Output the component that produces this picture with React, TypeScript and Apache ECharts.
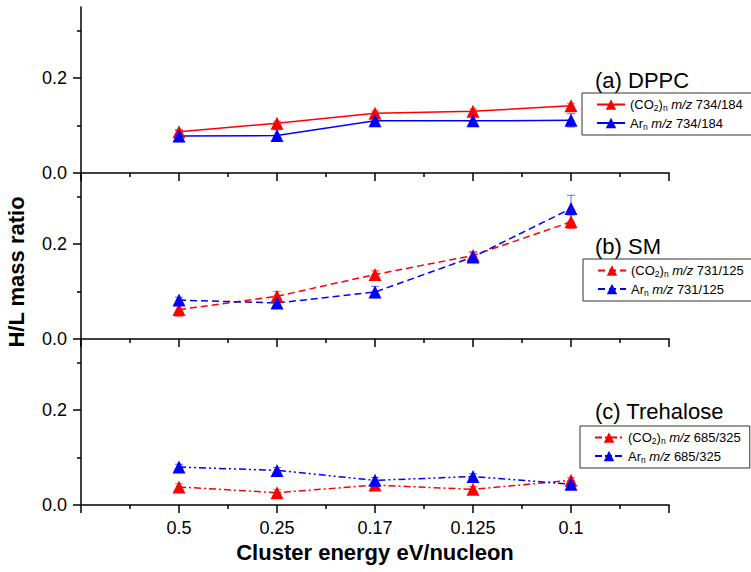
import React, { useEffect, useRef } from 'react';
import * as echarts from 'echarts';

// Cluster energy categories (eV/nucleon)
const energyLabels = ['0.5', '0.25', '0.17', '0.125', '0.1'];

// (a) DPPC  m/z 734/184
const dppcCO2 = [0.087, 0.105, 0.126, 0.130, 0.142];
const dppcCO2Err = [0.004, 0.004, 0.005, 0.005, 0.005];
const dppcAr = [0.078, 0.079, 0.110, 0.110, 0.111];
const dppcArErr = [0.012, 0.012, 0.010, 0.010, 0.014];

// (b) SM  m/z 731/125
const smCO2 = [0.062, 0.090, 0.136, 0.176, 0.247];
const smCO2Err = [0.015, 0.010, 0.008, 0.008, 0.014];
const smAr = [0.082, 0.076, 0.099, 0.173, 0.275];
const smArErr = [0.006, 0.010, 0.012, 0.010, 0.028];

// (c) Trehalose  m/z 685/325
const treCO2 = [0.038, 0.026, 0.042, 0.033, 0.052];
const treCO2Err = [0.007, 0.007, 0.006, 0.006, 0.006];
const treAr = [0.080, 0.073, 0.052, 0.060, 0.044];
const treArErr = [0.006, 0.006, 0.006, 0.006, 0.008];

const yMajorTicks = [0, 0.2];
const yMinorTicks = [0.1, 0.3];

const panelTitles = ['(a) DPPC', '(b) SM', '(c) Trehalose'];
const massLabels = ['734/184', '731/125', '685/325'];

const RED = '#ff0000';
const BLUE = '#0000ff';
const FONT = "'Liberation Sans', Arial, sans-serif";

export default function App() {
  const ref = useRef<HTMLDivElement>(null);

  useEffect(() => {
    if (!ref.current) return;
    const chart = echarts.init(ref.current, undefined, { renderer: 'svg' });

    const GRID_LEFT = 81;
    const GRID_W = 588;
    const GRID_H = 166;
    const tops = [7, 173, 339];

    const panels = [
      { co2: dppcCO2, co2Err: dppcCO2Err, ar: dppcAr, arErr: dppcArErr, dashCO2: 'solid', dashAr: 'solid' },
      { co2: smCO2, co2Err: smCO2Err, ar: smAr, arErr: smArErr, dashCO2: [7, 4], dashAr: [7, 4] },
      { co2: treCO2, co2Err: treCO2Err, ar: treAr, arErr: treArErr, dashCO2: [7, 3, 2, 3], dashAr: [7, 3, 2, 3, 2, 3] },
    ];

    const grid = tops.map((t) => ({ left: GRID_LEFT, top: t, width: GRID_W, height: GRID_H }));

    const xAxis = tops.map((_, i) => ({
      type: 'value',
      gridIndex: i,
      min: 0,
      max: 6,
      interval: 1,
      axisLine: { show: true, lineStyle: { color: '#000', width: 1.5 } },
      axisTick: { show: true, length: 8, lineStyle: { color: '#000', width: 1.5 } },
      minorTick: { show: true, splitNumber: 2, length: 4, lineStyle: { color: '#000', width: 1.5 } },
      splitLine: { show: false },
      minorSplitLine: { show: false },
      axisLabel: {
        show: i === 2,
        color: '#000',
        fontSize: 18,
        fontFamily: FONT,
        margin: 14,
        formatter: (v: number) => energyLabels[v - 1] ?? '',
      },
      name: i === 2 ? 'Cluster energy eV/nucleon' : '',
      nameLocation: 'middle',
      nameGap: 36,
      nameTextStyle: { color: '#000', fontSize: 22, fontWeight: 'bold', fontFamily: FONT },
    }));

    const yAxis: any[] = [];
    tops.forEach((_, i) => {
      yAxis.push({
        type: 'value',
        gridIndex: i,
        position: 'left',
        min: 0,
        max: 0.35,
        interval: 0.2,
        axisLine: { show: true, lineStyle: { color: '#000', width: 1.5 } },
        axisTick: { show: true, length: 8, customValues: yMajorTicks, lineStyle: { color: '#000', width: 1.5 } },
        axisLabel: {
          show: true,
          customValues: yMajorTicks,
          color: '#000',
          fontSize: 18,
          fontFamily: FONT,
          margin: 14,
          formatter: (v: number) => v.toFixed(1),
        },
        splitLine: { show: false },
      });
      yAxis.push({
        type: 'value',
        gridIndex: i,
        position: 'left',
        min: 0,
        max: 0.35,
        interval: 0.1,
        axisLine: { show: false },
        axisTick: { show: true, length: 4, customValues: yMinorTicks, lineStyle: { color: '#000', width: 1.5 } },
        axisLabel: { show: false },
        splitLine: { show: false },
      });
    });

    const errSeries = (i: number, vals: number[], errs: number[], color: string) => ({
      type: 'custom',
      xAxisIndex: i,
      yAxisIndex: 2 * i,
      silent: true,
      z: 1,
      data: vals.map((v, k) => [k + 1, v, errs[k]]),
      encode: { x: 0, y: 1 },
      renderItem: (_p: any, api: any) => {
        const x = api.value(0);
        const y = api.value(1);
        const e = api.value(2);
        const top = api.coord([x, y + e]);
        const bot = api.coord([x, y - e]);
        const w = 4;
        const style = { stroke: color, lineWidth: 1, opacity: 0.6 };
        return {
          type: 'group',
          children: [
            { type: 'line', shape: { x1: top[0], y1: top[1], x2: bot[0], y2: bot[1] }, style },
            { type: 'line', shape: { x1: top[0] - w, y1: top[1], x2: top[0] + w, y2: top[1] }, style },
            { type: 'line', shape: { x1: bot[0] - w, y1: bot[1], x2: bot[0] + w, y2: bot[1] }, style },
          ],
        };
      },
    });

    const lineSeries = (i: number, name: string, vals: number[], color: string, dash: any) => ({
      type: 'line',
      name,
      xAxisIndex: i,
      yAxisIndex: 2 * i,
      data: vals.map((v, k) => [k + 1, v]),
      symbol: 'triangle',
      symbolSize: 13,
      showAllSymbol: true,
      z: 3,
      lineStyle: { color, width: 1.5, type: dash },
      itemStyle: { color },
    });

    const series: any[] = [];
    panels.forEach((p, i) => {
      series.push(errSeries(i, p.co2, p.co2Err, RED));
      series.push(errSeries(i, p.ar, p.arErr, BLUE));
    });
    panels.forEach((p, i) => {
      series.push(lineSeries(i, `co2_${i}`, p.co2, RED, p.dashCO2));
      series.push(lineSeries(i, `ar_${i}`, p.ar, BLUE, p.dashAr));
    });

    const legendTops = [93, 259, 426];
    const legendLefts = [582, 583, 580];
    const legend = tops.map((_, i) => ({
      orient: 'vertical',
      left: legendLefts[i],
      top: legendTops[i],
      data: [`co2_${i}`, `ar_${i}`],
      borderColor: '#333',
      borderWidth: 1,
      padding: [5, 9, 4, 14],
      itemGap: 4,
      itemWidth: 28,
      itemHeight: 13,
      selectedMode: false,
      textStyle: {
        color: '#000',
        fontSize: 13,
        fontFamily: FONT,
        rich: {
          sub: { fontSize: 8.5, fontFamily: FONT, color: '#000', padding: [7, 0, 0, 0] },
          it: { fontSize: 13, fontStyle: 'italic', fontFamily: FONT, color: '#000' },
          n: { fontSize: 13, fontFamily: FONT, color: '#000' },
        },
      },
      formatter: (name: string) => {
        const idx = Number(name.split('_')[1]);
        const ml = massLabels[idx];
        if (name.startsWith('co2')) return `{n|(CO}{sub|2}{n|)}{sub|n}{n| }{it|m/z}{n| ${ml}}`;
        return `{n|Ar}{sub|n}{n| }{it|m/z}{n| ${ml}}`;
      },
    }));

    const titleY = [80, 246, 411];
    const graphic: any[] = [
      {
        type: 'text',
        x: 16,
        y: 272,
        rotation: Math.PI / 2,
        style: {
          text: 'H/L mass ratio',
          font: `bold 22px ${FONT}`,
          fill: '#000',
          align: 'center',
          verticalAlign: 'middle',
        },
      },
      ...panelTitles.map((t, i) => ({
        type: 'text',
        x: 595,
        y: titleY[i],
        style: {
          text: t,
          font: `22px ${FONT}`,
          fill: '#000',
          align: 'left',
          verticalAlign: 'middle',
        },
      })),
    ];

    chart.setOption({
      animation: false,
      backgroundColor: '#fff',
      textStyle: { fontFamily: FONT },
      grid,
      xAxis,
      yAxis,
      legend,
      series,
      graphic,
    } as any);

    return () => chart.dispose();
  }, []);

  return (
    <div
      ref={ref}
      style={{ position: 'fixed', left: 0, top: 0, width: 751, height: 572, background: '#fff' }}
    />
  );
}
